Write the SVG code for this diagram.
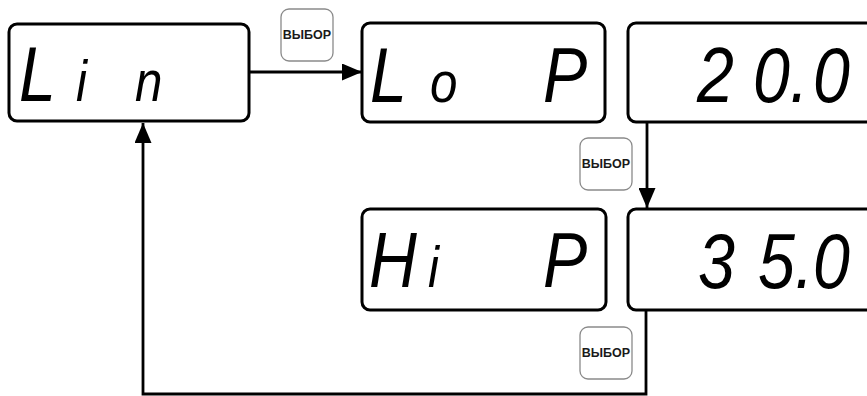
<svg xmlns="http://www.w3.org/2000/svg" width="867" height="396" viewBox="0 0 867 396">
<style>
.box{fill:#fff;stroke:#000;stroke-width:3}
.btn{fill:#fff;stroke:#8a8a8a;stroke-width:1.3}
.btxt{font-family:"Liberation Sans",Arial,sans-serif;font-weight:bold;font-size:12.5px;fill:#1a1a1a;text-anchor:middle}
.seg{font-family:"Liberation Sans",Arial,sans-serif;font-style:italic;font-size:78px;fill:#000}
.lc{font-size:58px}
.con{fill:none;stroke:#000;stroke-width:2.8}
</style>
<defs>
<marker id="ah" viewBox="0 0 20 17" refX="20" refY="8.5" markerWidth="20" markerHeight="17" markerUnits="userSpaceOnUse" orient="auto">
<path d="M0,0 L20,8.5 L0,17 Z" fill="#000"/>
</marker>
</defs>
<g id="connectors">
<line class="con" x1="250" y1="72" x2="362" y2="72" marker-end="url(#ah)"/>
<line class="con" x1="647" y1="122" x2="647" y2="208" marker-end="url(#ah)"/>
<polyline class="con" points="646,310 646,394 143,394 143,123" marker-end="url(#ah)"/>
</g>
<g id="btn1"><rect class="btn" x="281" y="9" width="52" height="52" rx="8"/><text class="btxt" x="307" y="39">ВЫБОР</text></g>
<g id="btn2"><rect class="btn" x="580" y="138" width="52" height="52" rx="8"/><text class="btxt" x="606" y="168">ВЫБОР</text></g>
<g id="btn3"><rect class="btn" x="580" y="327" width="52" height="52" rx="8"/><text class="btxt" x="606" y="357">ВЫБОР</text></g>
<g id="lin"><rect class="box" x="9" y="24" width="240" height="97" rx="8"/>
<text class="seg" transform="scale(0.85,1)" y="101"><tspan x="22.4">L</tspan><tspan class="lc" x="89.4">i</tspan><tspan class="lc" x="158.8">n</tspan></text></g>
<g id="lop"><rect class="box" x="362" y="23" width="243" height="99" rx="8"/>
<text class="seg" transform="scale(0.85,1)" y="102"><tspan x="435.3">L</tspan><tspan class="lc" x="505.9">o</tspan><tspan x="638.8">P</tspan></text></g>
<g id="v20"><rect class="box" x="628" y="23" width="260" height="99" rx="8"/>
<text class="seg" transform="scale(0.85,1)" y="102"><tspan x="820">2</tspan><tspan x="885.9">0.</tspan><tspan x="956.5">0</tspan></text></g>
<g id="hip"><rect class="box" x="362" y="209" width="244" height="101" rx="8"/>
<text class="seg" transform="scale(0.85,1)" y="287"><tspan x="434.1">H</tspan><tspan class="lc" x="503.5">i</tspan><tspan x="638.8">P</tspan></text></g>
<g id="v35"><rect class="box" x="628" y="209" width="260" height="101" rx="8"/>
<text class="seg" transform="scale(0.85,1)" y="288"><tspan x="821.2">3</tspan><tspan x="891.8">5.</tspan><tspan x="956.5">0</tspan></text></g>
</svg>
